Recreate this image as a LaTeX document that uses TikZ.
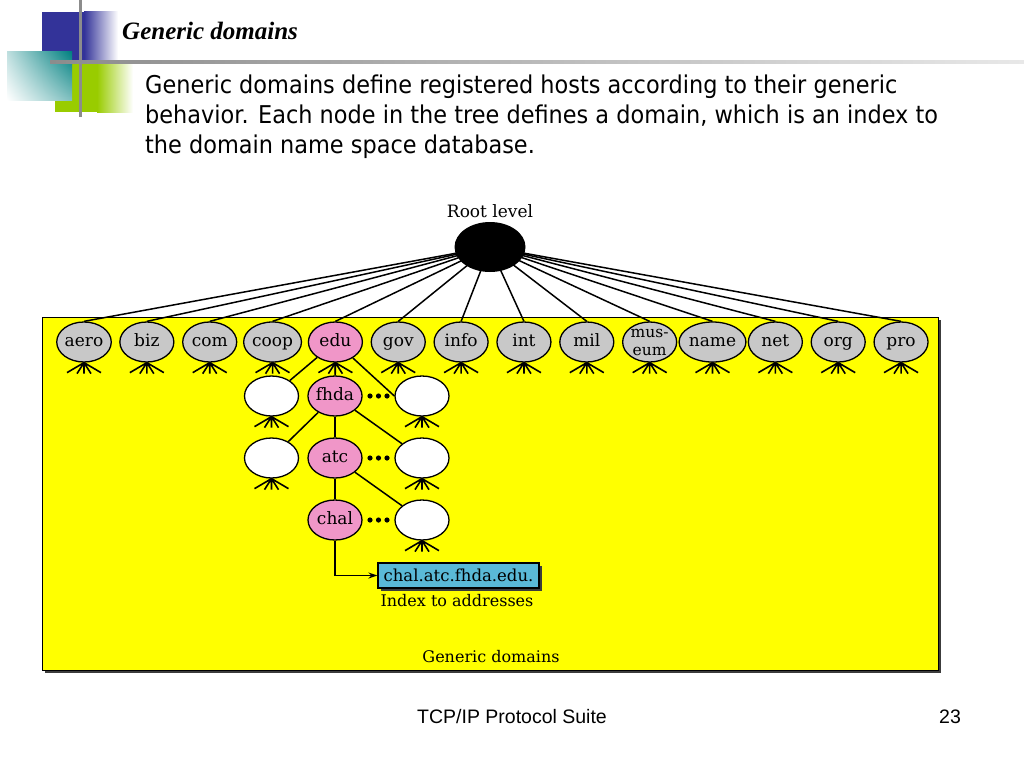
\documentclass[tikz,border=0pt]{standalone}
\usepackage{fontspec}
\setmainfont{DejaVu Serif}
\newfontfamily\bodyfont[FakeStretch=0.915]{DejaVu Sans}
\newfontfamily\titlefont{Liberation Serif}
\newfontfamily\footfont{Liberation Sans}
\newfontfamily\diafont{DejaVu Serif}
\usetikzlibrary{shapes.geometric,arrows.meta,shadows,shadings}
\pgfdeclarelayer{bg}
\pgfdeclarelayer{mid}
\pgfsetlayers{bg,mid,main}
\definecolor{blueD}{RGB}{51,51,153}
\definecolor{greenD}{RGB}{153,204,0}
\definecolor{tealD}{RGB}{0,128,128}
\definecolor{lineG}{RGB}{140,140,140}
\definecolor{grayn}{RGB}{200,200,200}
\definecolor{pinkn}{RGB}{240,150,200}
\definecolor{boxblue}{RGB}{90,185,215}
\definecolor{shadowc}{RGB}{60,60,60}
\definecolor{yel}{RGB}{255,255,0}
\newcommand\crowft[1]{%
  \draw[foot] (#1.south) -- ++(-17,10) (#1.south) -- ++(-7,11)
    (#1.south) -- ++(0,11) (#1.south) -- ++(7,11) (#1.south) -- ++(17,10);}
\begin{document}
\begin{tikzpicture}[x=1pt,y=-1pt,
  domshape/.style={ellipse, draw=black, line width=1.3pt, minimum width=54pt,
    minimum height=40pt, inner sep=0pt, align=center,
    font=\diafont\fontsize{17}{18}\selectfont},
  dom/.style={domshape, text height=12pt, text depth=3.5pt},
  tree/.style={line width=1.5pt, draw=black},
  foot/.style={line width=1.6pt, draw=black},
  dia/.style={font=\diafont\fontsize{16}{18}\selectfont, inner sep=0pt},
  body/.style={anchor=base west, inner sep=0pt, font=\bodyfont\fontsize{24.5}{30}\selectfont}]
\useasboundingbox (0,0) rectangle (1024,768);
% ---- yellow panel and page background
\begin{pgfonlayer}{bg}
\fill[white] (0,0) rectangle (1024,768);
\fill[shadowc] (45,320) rectangle (941,673);
\filldraw[fill=yel, draw=black, line width=0.8pt] (42,317) rectangle (938,670);
\end{pgfonlayer}
% ---- slide decoration
\fill[blueD] (42,12) rectangle (84,62);
\shade[left color=blueD, right color=white] (84,12) rectangle (118,62);
\fill[greenD] (55,63) rectangle (97,112);
\shade[left color=greenD, right color=white] (97,63) rectangle (133,112);
\shade[upper right=tealD, upper left=white!75!tealD, lower right=white!50!tealD, lower left=white] (7,52) rectangle (72,100);
\fill[lineG] (78.5,0) rectangle (81.5,117);
\shade[left color=lineG, right color=white!80!lineG] (50,60.5) rectangle (1024,63.5);
% ---- texts
\node[anchor=base west, inner sep=0pt, font=\titlefont\bfseries\itshape\fontsize{25}{28}\selectfont] (title) at (122,40) {Generic domains};
\node[body] (l1) at (145,93) {Generic domains define registered hosts according to their generic};
\node[body] (l2) at (145,123) {behavior. Each node in the tree defines a domain, which is an index to};
\node[body] (l3) at (145,153) {the domain name space database.};
\node[anchor=base, inner sep=0pt, font=\footfont\fontsize{19.5}{22}\selectfont] (foot) at (512,723) {TCP/IP Protocol Suite};
\node[anchor=base, inner sep=0pt, font=\footfont\fontsize{19.5}{22}\selectfont] (page) at (950,723) {23};
% ---- root
\node[dia, anchor=base, font=\diafont\fontsize{17}{18}\selectfont] (rl) at (490,217) {Root level};
\node[ellipse, fill=black, minimum width=71pt, minimum height=50pt, inner sep=0pt] (root) at (490,247) {};
% ---- top level domains
\foreach \i/\t/\c in {0/aero/grayn,1/biz/grayn,2/com/grayn,3/coop/grayn,4/edu/pinkn,5/gov/grayn,6/info/grayn,7/int/grayn,8/mil/grayn,10/name/grayn,11/net/grayn,12/org/grayn,13/pro/grayn}
  \node[dom, fill=\c] (\t) at ({84+62.85*\i},342) {\t};
\node[domshape, fill=grayn, font=\diafont\fontsize{15.5}{16}\selectfont] (museum) at ({84+62.85*9},342) {mus-\\[2pt]eum};
\begin{pgfonlayer}{mid}
\foreach \t in {aero,biz,com,coop,edu,gov,info,int,mil,museum,name,net,org,pro}
  \draw[tree] (root.center) -- (\t.north);
\end{pgfonlayer}
% ---- subtree
\node[dom, fill=white] (w1) at (271.5,396) {};
\node[dom, fill=pinkn] (fhda) at (335,396) {fhda};
\node[dom, fill=white] (w2) at (422,396) {};
\node[dom, fill=white] (w3) at (271.5,458) {};
\node[dom, fill=pinkn] (atc) at (335,458) {atc};
\node[dom, fill=white] (w4) at (422,458) {};
\node[dom, fill=pinkn] (chal) at (335,520) {chal};
\node[dom, fill=white] (w5) at (422,520) {};
\draw[tree] (edu) -- (w1);
\draw[tree] (edu) -- (fhda);
\draw[tree] (edu) -- (w2.west);
\draw[tree] (fhda) -- (w3);
\draw[tree] (fhda) -- (atc);
\draw[tree] (fhda) -- (w4);
\draw[tree] (atc) -- (chal);
\draw[tree] (atc) -- (w5);
\foreach \y in {396,458,520}
  \foreach \x in {370,378.5,387}
    \fill[black] (\x,\y) circle (2.6pt);
\foreach \t in {aero,biz,com,coop,edu,gov,info,int,mil,museum,name,net,org,pro,w1,w2,w3,w4,w5}
  \crowft{\t};
% ---- index box
\node[draw=black, line width=1.2pt, fill=boxblue, minimum width=161pt, minimum height=25pt,
  inner sep=0pt, font=\diafont\fontsize{16.5}{18}\selectfont,
  drop shadow={shadow xshift=2.5pt, shadow yshift=-2.5pt, fill=shadowc, opacity=1}] (box) at (458.5,575.5) {chal.atc.fhda.edu.};
\draw[tree, -{Stealth[length=9pt,width=6pt]}] (chal.south) |- (box.west);
\node[dia, anchor=base] (idx) at (457,606) {Index to addresses};
\node[dia, anchor=base] (gd) at (491,662) {Generic domains};
\end{tikzpicture}
\end{document}
